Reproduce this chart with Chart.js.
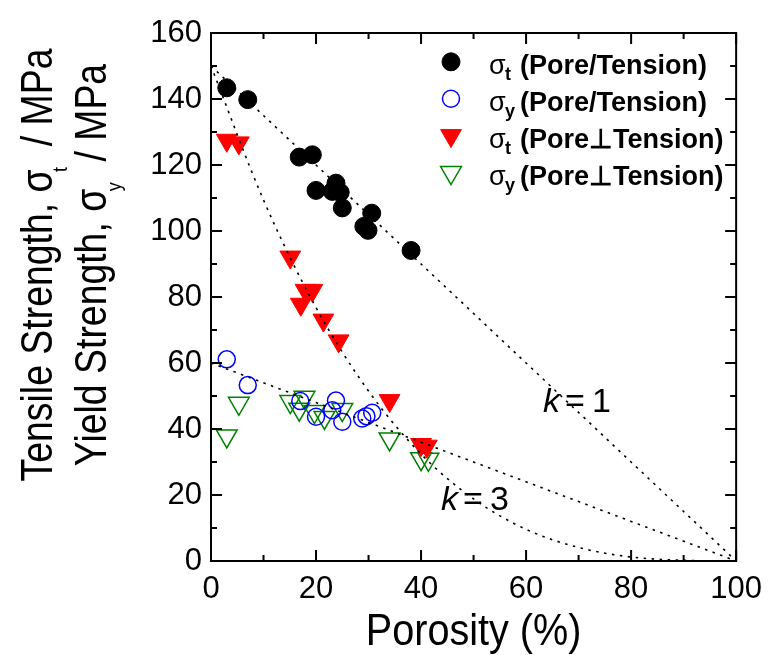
<!DOCTYPE html>
<html>
<head>
<meta charset="utf-8">
<script src="https://cdn.jsdelivr.net/npm/chart.js@4.4.0/dist/chart.umd.min.js"></script>
<style>
  html, body { margin: 0; padding: 0; background: #fff; }
  canvas { display: block; }
</style>
</head>
<body>
<canvas id="myChart" width="772" height="655"></canvas>
<script>
// measured strength vs porosity
const tensileParPorosity = [3.0, 7.0, 16.8, 19.3, 20.0, 23.1, 23.8, 24.6, 25.0, 29.1, 29.9, 30.6, 38.1];
const tensileParStrength = [143.4, 139.8, 122.4, 123.1, 112.3, 112.0, 114.5, 111.7, 107.0, 101.4, 100.2, 105.4, 94.1];

const yieldParPorosity = [3.0, 7.0, 17.0, 20.0, 23.1, 23.8, 25.0, 28.8, 29.6, 30.7];
const yieldParStrength = [61.1, 53.3, 48.5, 43.7, 45.7, 48.6, 42.2, 43.2, 43.9, 44.9];

const tensilePerpPorosity = [3.0, 5.3, 15.1, 17.1, 18.0, 19.3, 21.4, 24.3, 34.0, 40.0, 41.1];
const tensilePerpStrength = [127.5, 126.7, 92.1, 77.8, 82.0, 82.0, 73.0, 66.7, 48.6, 35.3, 34.8];

const yieldPerpPorosity = [3.0, 5.3, 15.1, 16.8, 17.8, 19.7, 21.6, 25.0, 34.0, 40.0, 41.4];
const yieldPerpStrength = [37.9, 47.8, 48.3, 46.0, 49.6, 45.3, 43.5, 45.9, 37.0, 31.0, 30.8];

// model curves sigma0 * (1 - p)^k
const fitPorosity = [0, 10, 20, 30, 40, 50, 60, 70, 80, 90, 100];
const tensileK1 = [150, 135, 120, 105, 90, 75, 60, 45, 30, 15, 0];
const tensileK3 = [150, 109.4, 76.8, 51.5, 32.4, 18.8, 9.6, 4.1, 1.2, 0.2, 0];
const yieldK1 = [60, 54, 48, 42, 36, 30, 24, 18, 12, 6, 0];

const xTickValues = [0, 10, 20, 30, 40, 50, 60, 70, 80, 90, 100];
const xTickLabels = [0, 20, 40, 60, 80, 100];
const yTickValues = [0, 10, 20, 30, 40, 50, 60, 70, 80, 90, 100, 110, 120, 130, 140, 150, 160];
const yTickLabels = [0, 20, 40, 60, 80, 100, 120, 140, 160];

const legendSubs = ['t', 'y', 't', 'y'];
const legendLabels = ['(Pore/Tension)', '(Pore/Tension)', '(Pore\u22A5Tension)', '(Pore\u22A5Tension)'];

const FONT = '"Liberation Sans", Arial, Helvetica, sans-serif';

const toPoints = (xs, ys) => xs.map((x, i) => ({ x: x, y: ys[i] }));

const fitLine = data => ({
  data: data,
  showLine: true,
  pointRadius: 0,
  borderColor: '#000',
  borderWidth: 1.6,
  borderDash: [2.5, 5.5],
  cubicInterpolationMode: 'monotone',
  fill: false
});

const markerSets = [
  { pointStyle: 'circle', radius: 9, rotation: 0, fill: '#000', stroke: '#000', width: 1 },
  { pointStyle: 'circle', radius: 8.5, rotation: 0, fill: 'rgba(0,0,0,0)', stroke: '#0000ff', width: 1.5 },
  { pointStyle: 'triangle', radius: 12, rotation: 180, fill: '#ff0000', stroke: '#ff0000', width: 1 },
  { pointStyle: 'triangle', radius: 12, rotation: 180, fill: 'rgba(0,0,0,0)', stroke: '#008000', width: 1.5 }
];

const markerSet = (data, m) => ({
  data: data,
  pointStyle: m.pointStyle,
  pointRadius: m.radius,
  pointRotation: m.rotation,
  pointBackgroundColor: m.fill,
  pointBorderColor: m.stroke,
  pointBorderWidth: m.width,
  showLine: false
});

// runs of text (for subscripts), centred on the origin, squeezed along the text
function drawRuns(ctx, runs, squeeze) {
  let total = 0;
  runs.forEach(r => {
    ctx.font = r.font;
    r.w = ctx.measureText(r.text).width + (r.kern || 0);
    total += r.w;
  });
  ctx.save();
  ctx.scale(squeeze, 1);
  let x = -total / 2;
  runs.forEach(r => {
    ctx.font = r.font;
    ctx.fillText(r.text, x, r.dy || 0);
    x += r.w;
  });
  ctx.restore();
}

function drawMarker(ctx, m, x, y) {
  ctx.save();
  ctx.fillStyle = m.fill;
  ctx.strokeStyle = m.stroke;
  ctx.lineWidth = m.width;
  Chart.helpers.drawPoint(ctx, {
    pointStyle: m.pointStyle,
    radius: m.radius,
    rotation: m.rotation,
    borderWidth: m.width
  }, x, y);
  ctx.restore();
}

const decorations = {
  id: 'decorations',
  afterDraw(chart) {
    const { ctx, chartArea: a, scales: { x, y } } = chart;
    ctx.save();

    // frame with inward ticks on all sides
    ctx.strokeStyle = '#000';
    ctx.lineWidth = 2;
    ctx.lineCap = 'butt';
    ctx.beginPath();
    xTickValues.forEach(v => {
      const px = x.getPixelForValue(v);
      const len = xTickLabels.includes(v) ? 11 : 6;
      ctx.moveTo(px, a.bottom); ctx.lineTo(px, a.bottom - len);
      ctx.moveTo(px, a.top); ctx.lineTo(px, a.top + len);
    });
    yTickValues.forEach(v => {
      const py = y.getPixelForValue(v);
      const len = yTickLabels.includes(v) ? 11 : 6;
      ctx.moveTo(a.left, py); ctx.lineTo(a.left + len, py);
      ctx.moveTo(a.right, py); ctx.lineTo(a.right - len, py);
    });
    ctx.stroke();
    ctx.strokeRect(a.left, a.top, a.right - a.left, a.bottom - a.top);

    ctx.fillStyle = '#000';
    ctx.textAlign = 'left';
    ctx.textBaseline = 'alphabetic';

    // legend
    legendLabels.forEach((label, i) => {
      const base = 74.3 + i * 36.9;
      drawMarker(ctx, markerSets[i], 451, base - 12.5);
      ctx.fillStyle = '#000';
      ctx.font = '27px ' + FONT;
      ctx.fillText('\u03C3', 489, base);
      ctx.font = 'bold 18px ' + FONT;
      ctx.fillText(legendSubs[i], 505, base + 5.5);
      ctx.font = 'bold 27px ' + FONT;
      ctx.fillText(label, 520, base);
    });

    // k labels
    [[543, 412, '1'], [441, 510, '3']].forEach(([lx, ly, k]) => {
      ctx.font = 'italic 34px ' + FONT;
      ctx.fillText('k', lx, ly);
      ctx.font = '34px ' + FONT;
      ctx.fillText('=', lx + 22, ly);
      ctx.fillText(k, lx + 49, ly);
    });

    // x axis title
    ctx.save();
    ctx.translate((a.left + a.right) / 2, 645);
    drawRuns(ctx, [{ text: 'Porosity (%)', font: '44px ' + FONT }], 0.9);
    ctx.restore();

    // y axis title, two lines
    const titleLines = [
      { base: 51.5, runs: [
        { text: 'Tensile Strength, \u03C3', font: '44px ' + FONT, kern: -3 },
        { text: 't', font: '21px ' + FONT, dy: 15 },
        { text: '  / MPa', font: '44px ' + FONT }
      ] },
      { base: 106, runs: [
        { text: 'Yield Strength, \u03C3', font: '44px ' + FONT, kern: -3 },
        { text: 'y', font: '21px ' + FONT, dy: 15 },
        { text: '  / MPa', font: '44px ' + FONT }
      ] }
    ];
    titleLines.forEach(line => {
      ctx.save();
      ctx.translate(line.base, 265);
      ctx.rotate(-Math.PI / 2);
      drawRuns(ctx, line.runs, 0.85);
      ctx.restore();
    });

    ctx.restore();
  }
};

const ctx = document.getElementById('myChart');

new Chart(ctx, {
  type: 'scatter',
  data: {
    datasets: [
      fitLine(toPoints(fitPorosity, tensileK1)),
      fitLine(toPoints(fitPorosity, tensileK3)),
      fitLine(toPoints(fitPorosity, yieldK1)),
      markerSet(toPoints(tensileParPorosity, tensileParStrength), markerSets[0]),
      markerSet(toPoints(tensilePerpPorosity, tensilePerpStrength), markerSets[2]),
      markerSet(toPoints(yieldParPorosity, yieldParStrength), markerSets[1]),
      markerSet(toPoints(yieldPerpPorosity, yieldPerpStrength), markerSets[3])
    ]
  },
  options: {
    responsive: false,
    animation: false,
    events: [],
    layout: { padding: { left: 0, right: 32, top: 33, bottom: 0 } },
    plugins: {
      legend: { display: false },
      tooltip: { enabled: false }
    },
    scales: {
      x: {
        type: 'linear',
        min: 0,
        max: 100,
        afterBuildTicks: scale => { scale.ticks = xTickValues.map(v => ({ value: v })); },
        afterFit: scale => { scale.height = 94; },
        ticks: {
          autoSkip: false,
          maxRotation: 0,
          padding: 10,
          color: '#000',
          font: { family: FONT, size: 31 },
          callback: v => xTickLabels.includes(v) ? String(v) : ''
        },
        grid: { display: false, drawTicks: false },
        border: { display: false }
      },
      y: {
        type: 'linear',
        min: 0,
        max: 160,
        afterBuildTicks: scale => { scale.ticks = yTickValues.map(v => ({ value: v })); },
        afterFit: scale => { scale.width = 211; },
        ticks: {
          autoSkip: false,
          padding: 9,
          color: '#000',
          font: { family: FONT, size: 31 },
          callback: v => yTickLabels.includes(v) ? String(v) : ''
        },
        grid: { display: false, drawTicks: false },
        border: { display: false }
      }
    }
  },
  plugins: [decorations]
});
</script>
</body>
</html>
